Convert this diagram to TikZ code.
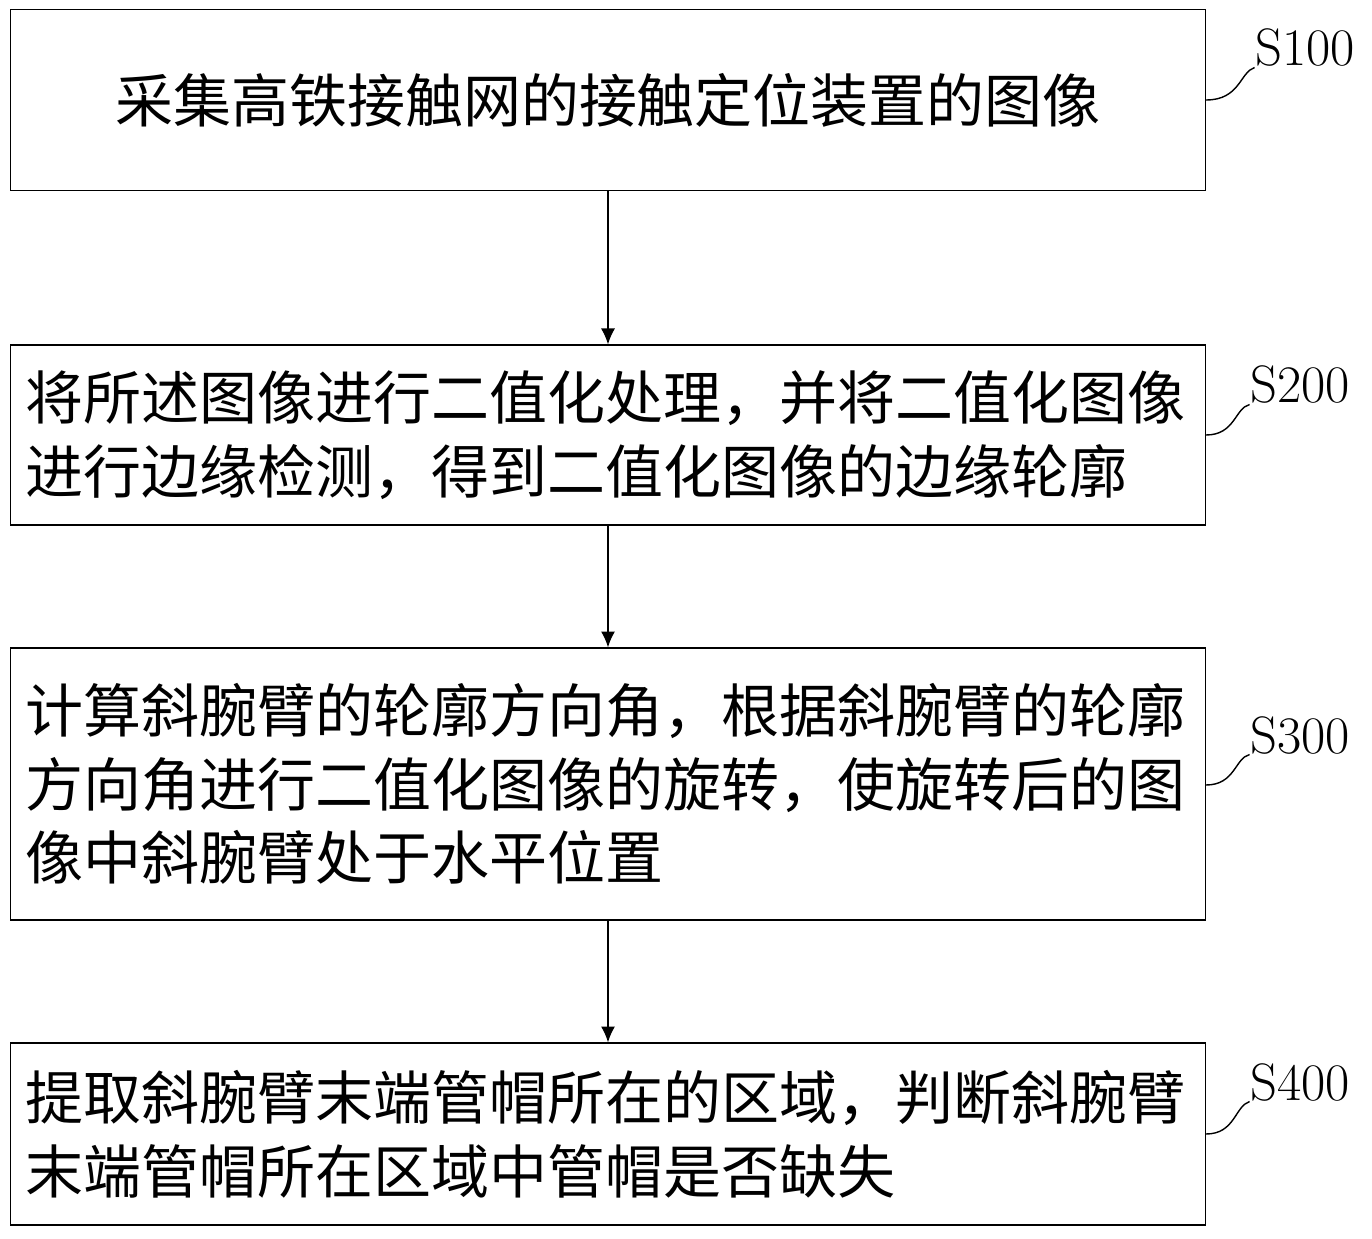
\documentclass[tikz,border=0pt]{standalone}
\usepackage{fontspec}
\newfontfamily\cjk{Noto Sans CJK SC}
\usetikzlibrary{positioning,arrows.meta}

\begin{document}
\begin{tikzpicture}[x=0.02cm, y=-0.02cm,
    thick,
    % --- Styles ---
    stepBox/.style={
      draw,
      rectangle,
      minimum width=23.9cm,
      inner sep=0pt,
      font=\cjk\fontsize{33}{42}\selectfont
    },
    stepTag/.style={
      font=\fontsize{30}{30}\selectfont,
      inner sep=0pt
    },
    flowArrow/.style={
      -{Latex[length=9pt,width=8pt]}
    }
]
\useasboundingbox (0,0) rectangle (1372,1239);

%=====================
% Boxes
%=====================
\node[stepBox, minimum height=3.62cm] (boxA) at (608,100) {采集高铁接触网的接触定位装置的图像};
\node[stepBox, minimum height=3.6cm, text width=23.3cm, align=left] (boxB) at (608,435)
  {将所述图像进行二值化处理，并将二值化图像\\进行边缘检测，得到二值化图像的边缘轮廓};
\node[stepBox, minimum height=5.44cm, text width=23.3cm, align=left] (boxC) at (608,784)
  {计算斜腕臂的轮廓方向角，根据斜腕臂的轮廓\\方向角进行二值化图像的旋转，使旋转后的图\\像中斜腕臂处于水平位置};
\node[stepBox, minimum height=3.64cm, text width=23.3cm, align=left] (boxD) at (608,1134)
  {提取斜腕臂末端管帽所在的区域，判断斜腕臂\\末端管帽所在区域中管帽是否缺失};

%=====================
% Tags
%=====================
\node[stepTag] (tagA) at (1305,48) {S100};
\node[stepTag] (tagB) at (1300,385) {S200};
\node[stepTag] (tagC) at (1300,735) {S300};
\node[stepTag] (tagD) at (1300,1082) {S400};
\draw (boxA.east |- 0,100) .. controls (1240,100) and (1240,72) .. (tagA.south west);
\draw (boxB.east |- 0,435) .. controls (1235,435) and (1235,408) .. (tagB.south west);
\draw (boxC.east |- 0,785) .. controls (1235,785) and (1235,758) .. (tagC.south west);
\draw (boxD.east |- 0,1134) .. controls (1235,1134) and (1235,1106) .. (tagD.south west);

%=====================
% Arrows
%=====================
\draw[flowArrow] (boxA) -- (boxB);
\draw[flowArrow] (boxB) -- (boxC);
\draw[flowArrow] (boxC) -- (boxD);

\end{tikzpicture}
\end{document}
